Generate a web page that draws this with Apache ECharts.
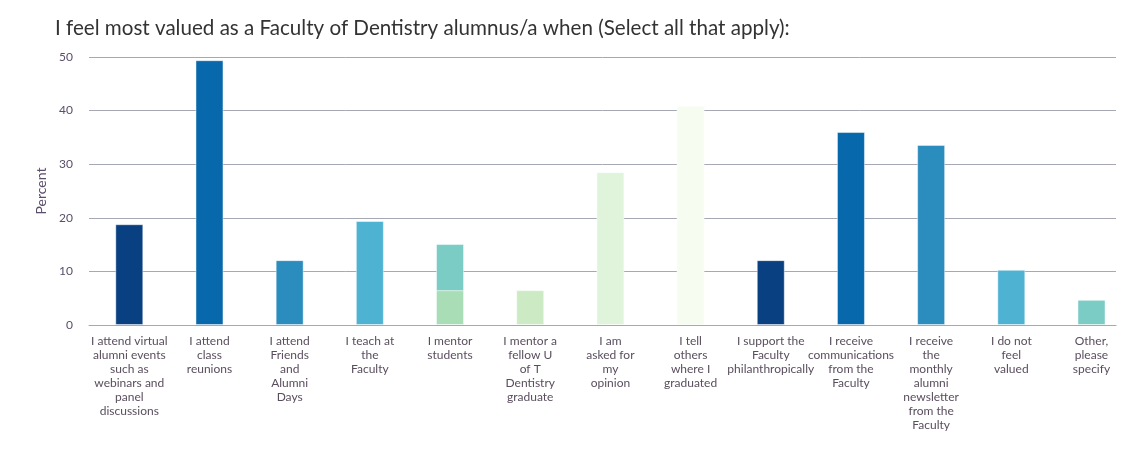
<!DOCTYPE html>
<html><head><meta charset="utf-8">
<script src="https://cdn.jsdelivr.net/npm/echarts@6/dist/echarts.min.js"></script>
<style>html,body{margin:0;padding:0;background:#fff}#c{width:1126px;height:451px}</style>
</head><body><div id="c"></div>
<script>
const categories = [
  "I attend virtual\nalumni events\nsuch as\nwebinars and\npanel\ndiscussions",
  "I attend\nclass\nreunions",
  "I attend\nFriends\nand\nAlumni\nDays",
  "I teach at\nthe\nFaculty",
  "I mentor\nstudents",
  "I mentor a\nfellow U\nof T\nDentistry\ngraduate",
  "I am\nasked for\nmy\nopinion",
  "I tell\nothers\nwhere I\ngraduated",
  "I support the\nFaculty\nphilanthropically",
  "I receive\ncommunications\nfrom the\nFaculty",
  "I receive\nthe\nmonthly\nalumni\nnewsletter\nfrom the\nFaculty",
  "I do not\nfeel\nvalued",
  "Other,\nplease\nspecify"
];
const values = [18.8, 49.4, 12.1, 19.4, 15.1, 6.5, 28.5, 40.9, 12.1, 36.0, 33.6, 10.3, 4.7];
const overlayValues = [null, null, null, null, 6.5, null, null, null, null, null, null, null, null];
const barColors = ["#084081","#0868ac","#2b8cbe","#4eb3d3","#7bccc4","#ccebc5","#e0f3db","#f7fcf0","#084081","#0868ac","#2b8cbe","#4eb3d3","#7bccc4"];
const overlayColor = "#a8ddb5";
const yTicks = [0, 10, 20, 30, 40, 50];

const chart = echarts.init(document.getElementById('c'));
const font = "Lato, 'Noto Sans', sans-serif";
const yMin = yTicks[0], yMax = yTicks[yTicks.length-1];
chart.setOption({
  animation: false,
  title: {
    text: "I feel most valued as a Faculty of Dentistry alumnus/a when (Select all that apply):",
    left: 50, top: 13,
    textStyle: {fontFamily: font, fontSize: 20.6, fontWeight: 'normal', color: '#333'}
  },
  grid: [
    {left: 89, right: 10, top: 57, bottom: 126, containLabel: false, outerBoundsMode: 'none'},
    {left: 129.3, width: 962.2, top: 57, bottom: 126, containLabel: false, outerBoundsMode: 'none'}
  ],
  xAxis: [
    {
      gridIndex: 0, type: 'category', data: categories,
      axisTick: {show: false}, axisLabel: {show: false},
      axisLine: {lineStyle: {color: '#a6a8b3', width: 1}}
    },
    {
      gridIndex: 1, type: 'category', data: categories, boundaryGap: false,
      axisTick: {show: false}, axisLine: {show: false}, splitLine: {show: false},
      axisLabel: {interval: 0, fontFamily: font, fontSize: 12, lineHeight: 14, color: '#5a4e5e', margin: 9, align: 'center'}
    }
  ],
  yAxis: [
    {
      gridIndex: 0, type: 'value', min: yMin, max: yMax, interval: 10,
      name: 'Percent', nameLocation: 'middle', nameGap: 40,
      nameTextStyle: {fontFamily: font, fontSize: 14, color: '#5a4e6a'},
      axisLabel: {fontFamily: font, fontSize: 12, color: '#5a4e6a', margin: 16},
      splitLine: {lineStyle: {color: '#a6a8b3', width: 1}},
      axisLine: {show: false}, axisTick: {show: false}
    },
    {
      gridIndex: 1, type: 'value', min: yMin, max: yMax, interval: 10, show: false
    }
  ],
  series: [
    {
      type: 'bar', xAxisIndex: 1, yAxisIndex: 1, barWidth: 28, barGap: '-100%',
      data: values.map((v, i) => ({value: v, itemStyle: {color: barColors[i]}})),
      itemStyle: {borderColor: 'rgba(255,255,255,0.45)', borderWidth: 1}
    },
    {
      type: 'bar', xAxisIndex: 1, yAxisIndex: 1, barWidth: 28, barGap: '-100%',
      data: overlayValues,
      itemStyle: {color: overlayColor, borderColor: 'rgba(255,255,255,0.6)', borderWidth: 1}
    }
  ]
});
</script></body></html>
